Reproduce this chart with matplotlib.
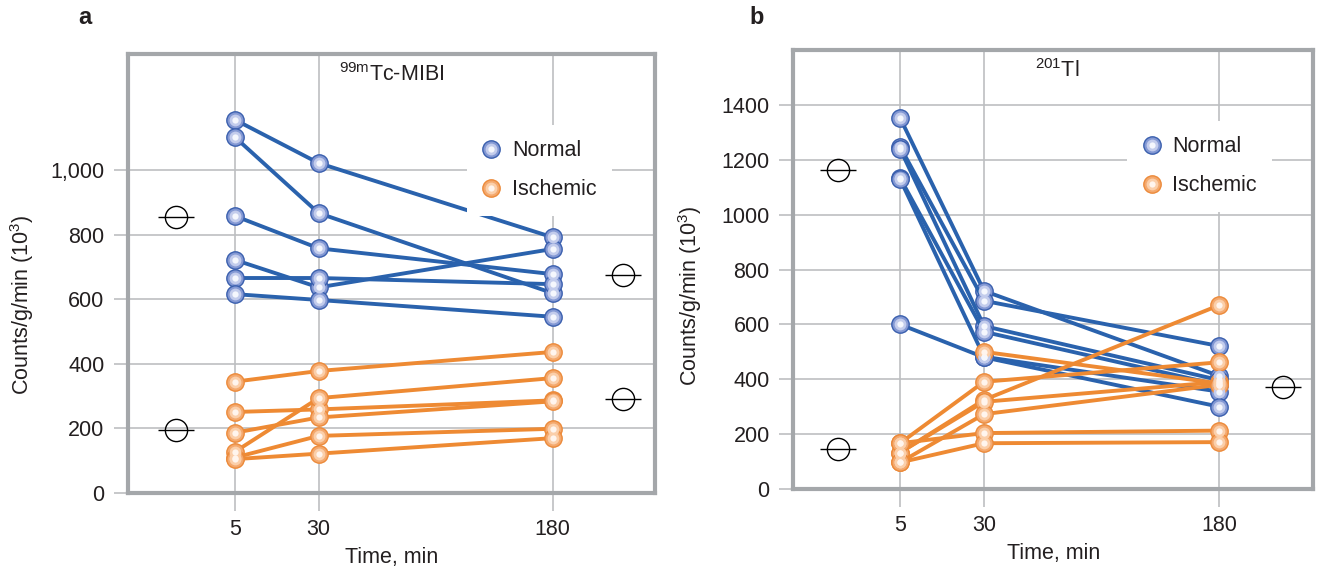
import numpy as np
import matplotlib
matplotlib.use("Agg")
import matplotlib.pyplot as plt
from matplotlib.lines import Line2D
from matplotlib.legend_handler import HandlerTuple
from matplotlib.ticker import FuncFormatter

plt.rcParams['font.family'] = ['Liberation Sans', 'DejaVu Sans']
plt.rcParams['mathtext.fontset'] = 'custom'
plt.rcParams['mathtext.rm'] = 'Liberation Sans'
plt.rcParams['mathtext.it'] = 'Liberation Sans:italic'

# data (counts/g/min, x10^3)
time_labels = ['5', '30', '180']

mibi_normal = [
    [1156, 1022, 792],
    [1102, 867, 619],
    [858, 758, 678],
    [722, 637, 756],
    [666, 666, 647],
    [616, 598, 546],
]
mibi_ischemic = [
    [345, 378, 437],
    [251, 259, 287],
    [187, 234, 284],
    [128, 294, 356],
    [110, 177, 199],
    [105, 122, 170],
]
mibi_means_early = [856, 195]
mibi_means_late = [676, 291]

tl_normal = [
    [1353, 722, 412],
    [1248, 686, 521],
    [1240, 594, 397],
    [1134, 573, 379],
    [1130, 482, 355],
    [600, 480, 300],
]
tl_ischemic = [
    [np.nan, 500, 385],
    [167, 391, 462],
    [133, 325, 670],
    [133, 318, 390],
    [97, 273, 380],
    [167, 204, 213],
    [97, 167, 171],
]
tl_means_early = [1161, 146]
tl_means_late = [373]

# layout
x_pos = [1, 2, 4.8]
BLUE = '#2a62ad'
ORANGE = '#ee8a33'
GRID = '#bdbfc1'
SPINE = '#a4a7aa'
TEXT = '#231f20'
FS = 15.5

blue_style = dict(line=BLUE, face='#8499d4', edge='#3a5fae', mid='#c3ccec', hi='#f5f7fd')
orange_style = dict(line=ORANGE, face='#f4a96e', edge='#ec8a3a', mid='#fbcfaa', hi='#fff5ee')


def draw_series(ax, series, st):
    for ys in series:
        ax.plot(x_pos, ys, color=st['line'], lw=2.8, zorder=3, marker='o', ms=12.5,
                mfc=st['face'], mec=st['edge'], mew=1.0)
        ax.plot(x_pos, ys, ls='none', marker='o', ms=8.5, mfc=st['mid'], mec='none', zorder=3.1)
        ax.plot(x_pos, ys, ls='none', marker='o', ms=4.5, mfc=st['hi'], mec='none', zorder=3.2)


def legend_handle(st):
    return (Line2D([], [], ls='none', marker='o', ms=12.5, mfc=st['face'], mec=st['edge'], mew=1.0),
            Line2D([], [], ls='none', marker='o', ms=8.5, mfc=st['mid'], mec='none'),
            Line2D([], [], ls='none', marker='o', ms=4.5, mfc=st['hi'], mec='none'))


def draw_means(ax, x, values):
    for v in values:
        ax.plot([x], [v], ls='none', marker='o', ms=16, mfc='none', mec='black', mew=1.0, zorder=4)
        ax.plot([x], [v], ls='none', marker='_', ms=26, mec='black', mew=1.0, zorder=4)


def style_axes(ax, yticks, ylim, xlim, label_xy, fmt=None):
    ax.set_xlim(*xlim)
    ax.set_ylim(*ylim)
    ax.set_xticks(x_pos)
    ax.set_xticklabels(time_labels)
    ax.set_yticks(yticks)
    if fmt is not None:
        ax.yaxis.set_major_formatter(fmt)
    ax.grid(True, color=GRID, lw=1.2, zorder=0)
    ax.set_axisbelow(True)
    for s in ax.spines.values():
        s.set_color(SPINE)
        s.set_linewidth(3)
    ax.tick_params(axis='both', direction='out', color=GRID, width=1.2, labelsize=FS,
                   labelcolor=TEXT)
    ax.tick_params(axis='y', length=10, pad=7)
    ax.tick_params(axis='x', length=13, pad=6)
    ax.set_xlabel('Time, min', fontsize=FS, color=TEXT, labelpad=5)
    ax.set_ylabel('Counts/g/min (10$^3$)', fontsize=FS, color=TEXT)
    ax.yaxis.set_label_coords(*label_xy)


fig = plt.figure(figsize=(13.2, 5.68), dpi=100)
ax_a = fig.add_axes([0.097, 0.132, 0.399, 0.773])
ax_b = fig.add_axes([0.601, 0.139, 0.394, 0.773])

# panel a
draw_series(ax_a, mibi_normal, blue_style)
draw_series(ax_a, mibi_ischemic, orange_style)
draw_means(ax_a, 0.29, mibi_means_early)
draw_means(ax_a, 5.64, mibi_means_late)
style_axes(ax_a, [0, 200, 400, 600, 800, 1000], (0, 1360), (-0.28, 6.02), (-0.175, 0.43),
           FuncFormatter(lambda v, p: f'{int(v):,}'))
ax_a.text(0.40, 0.952, '$^{\\mathregular{99m}}$Tc-MIBI', transform=ax_a.transAxes,
          fontsize=FS, color=TEXT, va='center', ha='left')

# panel b
draw_series(ax_b, tl_normal, blue_style)
draw_series(ax_b, tl_ischemic, orange_style)
draw_means(ax_b, 0.26, tl_means_early)
draw_means(ax_b, 5.56, tl_means_late)
style_axes(ax_b, [0, 200, 400, 600, 800, 1000, 1200, 1400], (0, 1600), (-0.27, 5.92),
           (-0.171, 0.44))
ax_b.text(0.465, 0.954, '$^{\\mathregular{201}}$Tl', transform=ax_b.transAxes,
          fontsize=FS, color=TEXT, va='center', ha='left')

for ax, anchor in ((ax_a, (0.643, 0.838)), (ax_b, (0.642, 0.838))):
    leg = ax.legend([legend_handle(blue_style), legend_handle(orange_style)],
                    ['Normal', 'Ischemic'],
                    handler_map={tuple: HandlerTuple(ndivide=1)},
                    loc='upper left', bbox_to_anchor=anchor, fontsize=FS,
                    frameon=True, facecolor='white', edgecolor='none', framealpha=1,
                    fancybox=False, handlelength=0.9, handletextpad=0.5,
                    labelspacing=0.85, borderpad=0.7, borderaxespad=0)
    leg.set_zorder(5)
    for t in leg.get_texts():
        t.set_color(TEXT)

fig.text(85 / 1320, 1 - 18 / 568, 'a', fontsize=17, fontweight='bold', color=TEXT,
         ha='center', va='center')
fig.text(757 / 1320, 1 - 18 / 568, 'b', fontsize=17, fontweight='bold', color=TEXT,
         ha='center', va='center')

fig.savefig('out.png', dpi=100)
